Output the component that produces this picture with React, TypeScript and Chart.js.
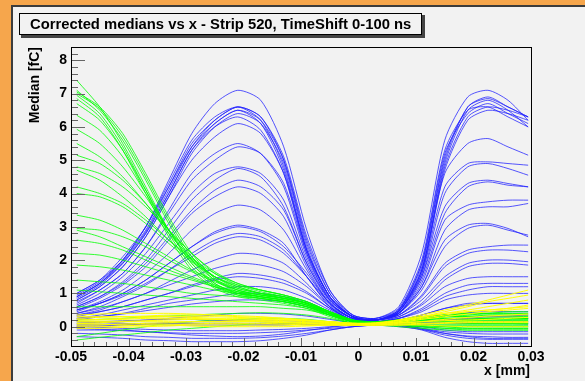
import React, { useEffect, useRef } from "react";
import { Chart, registerables } from "chart.js";
Chart.register(...registerables);

// x positions of the measured medians (mm)
const xs = [-0.049, -0.045, -0.041, -0.037, -0.033, -0.029, -0.025, -0.021, -0.017, -0.013, -0.009, -0.005, -0.001, 0.003, 0.007, 0.011, 0.015, 0.019, 0.0225, 0.026, 0.0295];

const xTickValues = [-0.05, -0.04, -0.03, -0.02, -0.01, 0, 0.01, 0.02, 0.03];
const xTickLabels = ["-0.05", "-0.04", "-0.03", "-0.02", "-0.01", "0", "0.01", "0.02", "0.03"];
const yTickValues = [0, 1, 2, 3, 4, 5, 6, 7, 8];
const yTickLabels = ["0", "1", "2", "3", "4", "5", "6", "7", "8"];

const titleText = "Corrected medians vs x - Strip 520, TimeShift 0-100 ns";
const xTitle = "x [mm]";
const yTitle = "Median [fC]";

// ---- blue series ----
const blue01 = [0.9, 1.3, 2.0, 3.0, 4.4, 5.8, 6.7, 7.1, 6.8, 5.4, 2.9, 1.1, 0.35, 0.25, 0.6, 2.2, 5.6, 6.9, 7.1, 6.8, 6.2];
const blue02 = [0.95, 1.35, 2.0, 2.9, 4.2, 5.5, 6.2, 6.6, 6.3, 5.0, 2.5, 1.0, 0.35, 0.25, 0.5, 1.8, 5.1, 6.6, 6.9, 6.6, 6.3];
const blue03 = [1.0, 1.4, 2.1, 3.0, 4.3, 5.6, 6.3, 6.6, 6.2, 4.8, 2.3, 0.9, 0.3, 0.2, 0.45, 1.7, 4.9, 6.5, 6.8, 6.5, 6.0];
const blue04 = [0.85, 1.25, 1.9, 2.8, 4.0, 5.3, 6.1, 6.5, 6.2, 5.0, 2.6, 1.0, 0.3, 0.2, 0.5, 1.9, 5.2, 6.4, 6.7, 6.4, 6.1];
const blue05 = [0.9, 1.3, 1.95, 2.85, 4.1, 5.4, 6.2, 6.6, 6.3, 5.1, 2.7, 1.1, 0.35, 0.25, 0.55, 2.0, 5.3, 6.5, 6.6, 6.3, 6.0];
const blue06 = [0.8, 1.2, 1.8, 2.7, 3.9, 5.2, 6.0, 6.4, 6.1, 4.9, 2.4, 0.9, 0.3, 0.2, 0.45, 1.6, 4.7, 6.2, 6.5, 6.4, 6.2];
const blue07 = [0.9, 1.3, 1.9, 2.8, 4.0, 5.3, 6.0, 6.3, 5.9, 4.6, 2.2, 0.8, 0.3, 0.2, 0.5, 1.7, 4.8, 6.3, 6.6, 6.5, 6.3];
const blue08 = [1.0, 1.4, 2.0, 3.0, 4.2, 5.4, 6.1, 6.5, 6.1, 4.7, 2.3, 0.9, 0.3, 0.2, 0.5, 1.9, 5.0, 6.6, 6.85, 6.6, 6.3];
const blue09 = [0.8, 1.2, 1.8, 2.7, 3.9, 5.0, 5.7, 6.1, 5.8, 4.6, 2.3, 0.9, 0.3, 0.2, 0.45, 1.7, 4.6, 5.5, 5.65, 5.4, 5.15];
const blue10 = [0.7, 1.1, 1.6, 2.4, 3.5, 4.6, 5.2, 5.5, 5.2, 4.2, 2.1, 0.85, 0.3, 0.2, 0.45, 1.6, 4.2, 4.9, 4.95, 4.9, 4.85];
const blue11 = [0.75, 1.1, 1.6, 2.4, 3.4, 4.4, 5.0, 5.4, 5.2, 4.3, 2.2, 0.9, 0.3, 0.2, 0.4, 1.5, 4.0, 4.8, 4.9, 4.75, 4.55];
const blue12 = [0.65, 1.0, 1.5, 2.2, 3.1, 4.0, 4.6, 4.8, 4.6, 3.8, 2.0, 0.8, 0.3, 0.2, 0.45, 1.5, 3.6, 4.3, 4.4, 4.3, 4.2];
const blue13 = [0.6, 0.9, 1.35, 2.0, 2.9, 3.8, 4.4, 4.75, 4.5, 3.6, 1.9, 0.75, 0.25, 0.2, 0.4, 1.4, 3.4, 4.2, 4.35, 4.25, 4.2];
const blue14 = [0.6, 0.9, 1.3, 1.9, 2.7, 3.5, 4.1, 4.4, 4.2, 3.5, 1.9, 0.8, 0.3, 0.2, 0.4, 1.3, 3.2, 3.65, 3.75, 3.8, 3.8];
const blue15 = [0.55, 0.85, 1.25, 1.8, 2.6, 3.4, 3.9, 4.2, 4.0, 3.3, 1.8, 0.7, 0.25, 0.2, 0.4, 1.2, 2.9, 3.5, 3.6, 3.6, 3.7];
const blue16 = [0.5, 0.75, 1.1, 1.6, 2.2, 2.9, 3.4, 3.65, 3.5, 2.9, 1.7, 0.7, 0.25, 0.2, 0.4, 1.2, 2.6, 3.05, 3.1, 2.95, 2.7];
const blue17 = [0.45, 0.7, 1.0, 1.4, 1.9, 2.4, 2.85, 3.05, 2.9, 2.5, 1.5, 0.65, 0.25, 0.2, 0.4, 1.1, 2.4, 2.95, 3.05, 2.9, 2.75];
const blue18 = [0.5, 0.7, 1.0, 1.4, 1.9, 2.4, 2.8, 3.0, 2.85, 2.4, 1.6, 0.7, 0.25, 0.2, 0.35, 0.95, 1.9, 2.3, 2.4, 2.45, 2.45];
const blue19 = [0.4, 0.6, 0.9, 1.25, 1.7, 2.2, 2.6, 2.8, 2.7, 2.3, 1.5, 0.6, 0.2, 0.2, 0.35, 0.9, 1.8, 2.2, 2.3, 2.3, 2.25];
const blue20 = [0.5, 0.7, 0.95, 1.3, 1.7, 2.1, 2.5, 2.7, 2.6, 2.2, 1.5, 0.7, 0.25, 0.2, 0.35, 0.8, 1.5, 1.9, 2.0, 2.0, 1.95];
const blue21 = [0.35, 0.5, 0.75, 1.0, 1.35, 1.7, 2.0, 2.2, 2.15, 1.9, 1.3, 0.6, 0.2, 0.2, 0.3, 0.7, 1.4, 1.8, 1.9, 1.9, 1.85];
const blue22 = [0.4, 0.55, 0.75, 1.0, 1.25, 1.5, 1.75, 1.9, 1.85, 1.65, 1.2, 0.6, 0.25, 0.15, 0.3, 0.65, 1.2, 1.45, 1.5, 1.5, 1.5];
const blue23 = [0.3, 0.45, 0.6, 0.8, 1.0, 1.25, 1.45, 1.6, 1.55, 1.4, 1.05, 0.55, 0.2, 0.15, 0.25, 0.55, 1.0, 1.25, 1.3, 1.3, 1.3];
const blue24 = [0.35, 0.45, 0.6, 0.8, 1.0, 1.2, 1.4, 1.5, 1.45, 1.3, 1.0, 0.55, 0.2, 0.15, 0.25, 0.5, 0.9, 1.1, 1.2, 1.2, 1.2];
const blue25 = [0.25, 0.35, 0.5, 0.65, 0.8, 0.95, 1.1, 1.2, 1.2, 1.1, 0.85, 0.5, 0.2, 0.15, 0.25, 0.45, 0.8, 0.95, 1.0, 1.0, 1.0];
const blue26 = [0.2, 0.3, 0.4, 0.55, 0.7, 0.8, 0.9, 1.0, 1.0, 0.9, 0.75, 0.45, 0.2, 0.15, 0.2, 0.35, 0.55, 0.7, 0.7, 0.7, 0.7];
const blue27 = [0.25, 0.3, 0.38, 0.48, 0.58, 0.68, 0.75, 0.8, 0.8, 0.75, 0.6, 0.4, 0.2, 0.15, 0.2, 0.35, 0.55, 0.65, 0.7, 0.7, 0.7];
const blue28 = [0.1, 0.12, 0.15, 0.2, 0.25, 0.3, 0.35, 0.4, 0.4, 0.38, 0.32, 0.22, 0.12, 0.1, 0.15, 0.25, 0.35, 0.42, 0.45, 0.45, 0.45];
const blue29 = [0.0, 0.02, 0.05, 0.08, 0.12, 0.15, 0.18, 0.2, 0.2, 0.18, 0.15, 0.12, 0.1, 0.1, 0.1, 0.15, 0.2, 0.22, 0.25, 0.25, 0.25];
const blue30 = [0.05, 0.05, 0.06, 0.08, 0.1, 0.1, 0.1, 0.1, 0.08, 0.08, 0.08, 0.08, 0.08, 0.08, 0.1, 0.12, 0.12, 0.1, 0.1, 0.1, 0.08];
const blue31 = [-0.1, -0.1, -0.12, -0.15, -0.18, -0.2, -0.2, -0.2, -0.18, -0.15, -0.1, -0.05, 0.0, 0.05, 0.05, -0.05, -0.15, -0.2, -0.22, -0.22, -0.22];
const blue32 = [-0.2, -0.22, -0.25, -0.3, -0.32, -0.35, -0.35, -0.35, -0.33, -0.28, -0.2, -0.1, 0.0, 0.05, 0.05, -0.08, -0.25, -0.35, -0.38, -0.38, -0.38];
const blue33 = [-0.3, -0.32, -0.35, -0.4, -0.42, -0.45, -0.45, -0.45, -0.42, -0.35, -0.25, -0.1, 0.0, 0.05, 0.02, -0.1, -0.32, -0.45, -0.5, -0.5, -0.5];
const blue34 = [0.0, -0.02, -0.05, -0.08, -0.1, -0.12, -0.12, -0.12, -0.1, -0.08, -0.05, 0.0, 0.05, 0.05, 0.05, 0.0, -0.1, -0.15, -0.15, -0.15, -0.15];
const blue35 = [-0.05, -0.08, -0.1, -0.15, -0.2, -0.25, -0.28, -0.3, -0.28, -0.22, -0.12, -0.02, 0.05, 0.05, 0.0, -0.08, -0.2, -0.28, -0.3, -0.32, -0.32];
const blue36 = [0.15, 0.12, 0.1, 0.08, 0.05, 0.05, 0.05, 0.05, 0.05, 0.05, 0.08, 0.1, 0.1, 0.08, 0.05, -0.05, -0.2, -0.3, -0.35, -0.35, -0.35];

// ---- green series ----
const green01 = [7.4, 6.6, 5.5, 4.2, 2.9, 1.9, 1.25, 0.95, 0.85, 0.75, 0.6, 0.35, 0.15, 0.15, 0.2, 0.25, 0.3, 0.3, 0.3, 0.3, 0.3];
const green02 = [7.1, 6.5, 5.6, 4.4, 3.1, 2.0, 1.3, 1.0, 0.9, 0.8, 0.65, 0.4, 0.15, 0.1, 0.15, 0.2, 0.25, 0.25, 0.25, 0.25, 0.25];
const green03 = [7.05, 6.6, 5.8, 4.6, 3.3, 2.2, 1.45, 1.1, 0.95, 0.85, 0.7, 0.4, 0.15, 0.1, 0.1, 0.15, 0.2, 0.2, 0.2, 0.2, 0.2];
const green04 = [7.0, 6.55, 5.7, 4.5, 3.2, 2.1, 1.4, 1.05, 0.9, 0.8, 0.65, 0.35, 0.1, 0.1, 0.2, 0.3, 0.35, 0.4, 0.4, 0.4, 0.4];
const green05 = [6.95, 6.4, 5.4, 4.1, 2.8, 1.8, 1.2, 0.95, 0.85, 0.75, 0.6, 0.35, 0.15, 0.1, 0.15, 0.2, 0.15, 0.1, 0.1, 0.1, 0.1];
const green06 = [6.85, 6.3, 5.3, 4.0, 2.7, 1.7, 1.15, 0.9, 0.8, 0.7, 0.55, 0.3, 0.1, 0.05, 0.05, 0.05, 0.0, 0.0, 0.0, 0.0, 0.0];
const green07 = [6.7, 6.2, 5.3, 4.1, 2.9, 1.9, 1.3, 1.0, 0.85, 0.75, 0.6, 0.35, 0.15, 0.1, 0.1, 0.1, 0.1, 0.15, 0.15, 0.15, 0.15];
const green08 = [6.35, 5.9, 5.1, 4.0, 2.9, 2.0, 1.4, 1.1, 0.95, 0.85, 0.7, 0.4, 0.15, 0.1, 0.15, 0.25, 0.3, 0.35, 0.35, 0.35, 0.35];
const green09 = [5.93, 5.5, 4.8, 3.9, 2.9, 2.1, 1.5, 1.15, 1.0, 0.9, 0.7, 0.4, 0.15, 0.1, 0.1, 0.05, 0.0, -0.05, -0.05, -0.05, -0.05];
const green10 = [5.5, 5.1, 4.5, 3.7, 2.8, 2.05, 1.5, 1.2, 1.0, 0.85, 0.7, 0.4, 0.15, 0.1, 0.2, 0.3, 0.35, 0.35, 0.4, 0.4, 0.4];
const green11 = [5.15, 4.9, 4.4, 3.7, 2.9, 2.2, 1.6, 1.25, 1.05, 0.9, 0.7, 0.4, 0.15, 0.1, 0.1, 0.15, 0.2, 0.2, 0.25, 0.25, 0.25];
const green12 = [4.8, 4.6, 4.2, 3.6, 2.9, 2.2, 1.65, 1.3, 1.1, 0.95, 0.75, 0.45, 0.15, 0.1, 0.15, 0.1, 0.1, 0.1, 0.1, 0.1, 0.1];
const green13 = [4.7, 4.4, 3.9, 3.3, 2.6, 2.0, 1.5, 1.2, 1.0, 0.85, 0.7, 0.4, 0.15, 0.1, 0.05, 0.0, -0.05, -0.1, -0.1, -0.1, -0.1];
const green14 = [4.2, 4.0, 3.7, 3.2, 2.6, 2.05, 1.6, 1.3, 1.1, 0.95, 0.75, 0.45, 0.2, 0.15, 0.2, 0.25, 0.3, 0.3, 0.3, 0.3, 0.3];
const green15 = [4.0, 3.9, 3.6, 3.1, 2.5, 1.95, 1.5, 1.25, 1.1, 0.95, 0.75, 0.45, 0.2, 0.1, 0.1, 0.15, 0.2, 0.2, 0.2, 0.2, 0.2];
const green16 = [3.35, 3.2, 2.9, 2.5, 2.1, 1.7, 1.4, 1.15, 1.0, 0.9, 0.7, 0.45, 0.2, 0.1, 0.05, 0.0, 0.0, 0.0, 0.0, 0.0, 0.0];
const green17 = [2.95, 2.9, 2.7, 2.4, 2.0, 1.65, 1.35, 1.1, 0.95, 0.85, 0.7, 0.45, 0.2, 0.15, 0.2, 0.3, 0.35, 0.4, 0.4, 0.45, 0.45];
const green18 = [2.9, 2.7, 2.4, 2.1, 1.8, 1.5, 1.25, 1.05, 0.9, 0.8, 0.65, 0.4, 0.15, 0.1, 0.1, 0.1, 0.1, 0.1, 0.1, 0.1, 0.1];
const green19 = [2.6, 2.5, 2.3, 2.0, 1.7, 1.45, 1.2, 1.0, 0.9, 0.8, 0.65, 0.4, 0.15, 0.1, 0.15, 0.2, 0.25, 0.25, 0.25, 0.25, 0.25];
const green20 = [2.2, 2.15, 2.0, 1.8, 1.6, 1.4, 1.2, 1.05, 0.95, 0.85, 0.7, 0.45, 0.2, 0.1, 0.05, 0.05, 0.05, 0.05, 0.05, 0.05, 0.05];
const green21 = [1.85, 1.8, 1.7, 1.55, 1.4, 1.25, 1.1, 1.0, 0.9, 0.8, 0.65, 0.4, 0.15, 0.1, 0.15, 0.2, 0.2, 0.25, 0.25, 0.25, 0.25];
const green22 = [1.4, 1.35, 1.3, 1.2, 1.1, 1.0, 0.95, 0.9, 0.85, 0.75, 0.6, 0.4, 0.15, 0.1, 0.1, 0.15, 0.15, 0.15, 0.15, 0.15, 0.15];
const green23 = [1.1, 1.05, 1.0, 0.95, 0.9, 0.85, 0.8, 0.75, 0.7, 0.65, 0.55, 0.35, 0.15, 0.1, 0.05, 0.0, -0.05, -0.05, -0.05, -0.05, -0.05];
const green24 = [0.6, 0.6, 0.6, 0.6, 0.6, 0.6, 0.6, 0.6, 0.6, 0.55, 0.5, 0.35, 0.15, 0.1, 0.15, 0.2, 0.3, 0.3, 0.35, 0.35, 0.35];
const green25 = [0.2, 0.22, 0.25, 0.3, 0.32, 0.35, 0.38, 0.4, 0.42, 0.4, 0.35, 0.25, 0.1, 0.05, 0.05, 0.05, 0.05, 0.05, 0.05, 0.05, 0.05];
const green26 = [-0.3, -0.2, -0.1, 0.0, 0.1, 0.15, 0.2, 0.22, 0.25, 0.25, 0.22, 0.15, 0.1, 0.05, 0.0, -0.05, -0.1, -0.1, -0.1, -0.1, -0.1];
const green27 = [-0.4, -0.32, -0.25, -0.18, -0.1, -0.05, 0.0, 0.05, 0.1, 0.1, 0.1, 0.1, 0.05, 0.05, 0.1, 0.15, 0.2, 0.2, 0.2, 0.2, 0.2];

// ---- yellow series ----
const yellow01 = [0.3, 0.3, 0.3, 0.3, 0.3, 0.28, 0.25, 0.25, 0.22, 0.2, 0.18, 0.15, 0.1, 0.1, 0.2, 0.35, 0.5, 0.65, 0.8, 0.95, 1.1];
const yellow02 = [0.2, 0.2, 0.22, 0.25, 0.25, 0.25, 0.22, 0.2, 0.2, 0.18, 0.15, 0.12, 0.1, 0.1, 0.18, 0.3, 0.45, 0.6, 0.75, 0.85, 0.95];
const yellow03 = [0.1, 0.12, 0.15, 0.18, 0.2, 0.22, 0.22, 0.2, 0.18, 0.15, 0.12, 0.1, 0.08, 0.08, 0.15, 0.28, 0.4, 0.5, 0.6, 0.7, 0.8];
const yellow04 = [0.05, 0.05, 0.08, 0.1, 0.12, 0.15, 0.15, 0.15, 0.15, 0.12, 0.1, 0.08, 0.05, 0.08, 0.12, 0.22, 0.3, 0.38, 0.45, 0.5, 0.55];
const yellow05 = [0.0, 0.0, 0.02, 0.05, 0.05, 0.08, 0.1, 0.1, 0.1, 0.08, 0.05, 0.05, 0.05, 0.05, 0.1, 0.15, 0.22, 0.28, 0.32, 0.35, 0.38];
const yellow06 = [0.25, 0.28, 0.3, 0.32, 0.35, 0.35, 0.35, 0.33, 0.3, 0.25, 0.2, 0.15, 0.1, 0.1, 0.12, 0.15, 0.18, 0.2, 0.22, 0.25, 0.28];
const yellow07 = [0.15, 0.15, 0.15, 0.15, 0.15, 0.15, 0.15, 0.15, 0.15, 0.12, 0.1, 0.08, 0.05, 0.05, 0.08, 0.1, 0.12, 0.15, 0.15, 0.15, 0.15];
const yellow08 = [-0.05, -0.05, -0.02, 0.0, 0.02, 0.05, 0.05, 0.05, 0.05, 0.05, 0.05, 0.05, 0.05, 0.05, 0.05, 0.08, 0.1, 0.12, 0.12, 0.12, 0.12];
const yellow09 = [0.35, 0.38, 0.4, 0.4, 0.4, 0.38, 0.35, 0.3, 0.28, 0.25, 0.2, 0.15, 0.1, 0.1, 0.15, 0.25, 0.35, 0.45, 0.5, 0.55, 0.6];
const yellow10 = [0.1, 0.08, 0.05, 0.05, 0.05, 0.02, 0.0, 0.0, 0.0, 0.0, 0.02, 0.05, 0.05, 0.05, 0.05, 0.05, 0.02, 0.0, 0.0, 0.0, 0.0];
const yellow11 = [0.2, 0.22, 0.25, 0.28, 0.3, 0.3, 0.3, 0.28, 0.25, 0.22, 0.18, 0.12, 0.1, 0.12, 0.2, 0.3, 0.4, 0.45, 0.5, 0.55, 0.65];

// ---- grey series ----
const grey01 = [0.15, 0.15, 0.18, 0.2, 0.22, 0.22, 0.2, 0.18, 0.15, 0.12, 0.1, 0.08, 0.06, 0.06, 0.1, 0.15, 0.2, 0.25, 0.3, 0.32, 0.35];
const grey02 = [0.05, 0.06, 0.08, 0.1, 0.1, 0.1, 0.1, 0.1, 0.1, 0.08, 0.06, 0.05, 0.05, 0.05, 0.06, 0.08, 0.1, 0.12, 0.15, 0.15, 0.15];

const blueSeries = [blue01, blue02, blue03, blue04, blue05, blue06, blue07, blue08, blue09, blue10, blue11, blue12, blue13, blue14, blue15, blue16, blue17, blue18, blue19, blue20, blue21, blue22, blue23, blue24, blue25, blue26, blue27, blue28, blue29, blue30, blue31, blue32, blue33, blue34, blue35, blue36];
const greenSeries = [green01, green02, green03, green04, green05, green06, green07, green08, green09, green10, green11, green12, green13, green14, green15, green16, green17, green18, green19, green20, green21, green22, green23, green24, green25, green26, green27];
const yellowSeries = [yellow01, yellow02, yellow03, yellow04, yellow05, yellow06, yellow07, yellow08, yellow09, yellow10, yellow11];
const greySeries = [grey01, grey02];

const FONT = "'Liberation Sans', Arial, Helvetica, sans-serif";

function mk(arr: number[], color: string, name: string, width: number) {
  return {
    label: name,
    data: xs.map((x, i) => ({ x, y: arr[i] })),
    borderColor: color,
    backgroundColor: color,
    borderWidth: width,
    pointRadius: 0,
    fill: false,
    tension: 0.25,
  };
}

const decor = {
  id: "rootDecor",
  beforeDraw(chart: any) {
    const ctx = chart.ctx;
    const W = chart.width, H = chart.height;
    ctx.save();
    ctx.fillStyle = "#f6a64c";
    ctx.fillRect(0, 0, W, H);
    ctx.fillStyle = "#3c3c3c";
    ctx.fillRect(11, 5, W - 11, H - 5);
    ctx.fillStyle = "#f2f2f2";
    ctx.fillRect(13, 7, W - 13, H - 7);
    ctx.restore();
  },
  afterDatasetsDraw(chart: any) {
    const ctx = chart.ctx;
    const a = chart.chartArea;
    const xs_ = chart.scales.x, ys_ = chart.scales.y;
    ctx.save();
    ctx.strokeStyle = "#666";
    ctx.lineWidth = 1;
    ctx.beginPath();
    for (let k = 0; k <= 40; k++) {
      const v = -0.05 + k * 0.002;
      const px = Math.round(xs_.getPixelForValue(v)) + 0.5;
      const len = k % 5 === 0 ? 8 : 4;
      ctx.moveTo(px, a.bottom);
      ctx.lineTo(px, a.bottom - len);
    }
    for (let k = -2; k <= 42; k++) {
      const v = k * 0.2;
      const py = Math.round(ys_.getPixelForValue(v)) + 0.5;
      if (py < a.top || py > a.bottom) continue;
      const len = k % 5 === 0 ? 14 : 7;
      ctx.moveTo(a.left, py);
      ctx.lineTo(a.left + len, py);
    }
    ctx.stroke();
    ctx.strokeStyle = "#000";
    ctx.strokeRect(Math.round(a.left) + 0.5, Math.round(a.top) + 0.5, Math.round(a.right - a.left), Math.round(a.bottom - a.top));
    ctx.restore();
  },
  afterDraw(chart: any) {
    const ctx = chart.ctx;
    const a = chart.chartArea;
    ctx.save();
    ctx.fillStyle = "#444";
    ctx.fillRect(21, 15, 404, 23);
    ctx.fillStyle = "#f2f2f2";
    ctx.fillRect(19, 13, 403, 22);
    ctx.strokeStyle = "#000";
    ctx.lineWidth = 1;
    ctx.strokeRect(19.5, 13.5, 402, 21);
    ctx.fillStyle = "#000";
    ctx.font = "bold 14.8px " + FONT;
    ctx.textBaseline = "middle";
    ctx.textAlign = "left";
    ctx.fillText(titleText, 30, 24.5);
    ctx.font = "bold 14px " + FONT;
    ctx.textAlign = "right";
    ctx.fillText(xTitle, a.right - 1, 371);
    ctx.translate(35.5, a.top);
    ctx.rotate(-Math.PI / 2);
    ctx.textAlign = "right";
    ctx.fillText(yTitle, 0, 0);
    ctx.restore();
  },
};

export default function App() {
  const ref = useRef<HTMLCanvasElement | null>(null);
  useEffect(() => {
    document.body.style.margin = "0";
    const canvas = ref.current!;
    const datasets = [
      ...yellowSeries.map((s, i) => mk(s, "#ffff00", "yellow" + i, 1)),
      ...greySeries.map((s, i) => mk(s, "#8f8f8f", "grey" + i, 1)),
      ...greenSeries.map((s, i) => mk(s, "#00ff00", "green" + i, 0.8)),
      ...blueSeries.map((s, i) => mk(s, "#1f1fff", "blue" + i, 0.75)),
    ];
    const chart = new Chart(canvas, {
      type: "line",
      data: { datasets },
      options: {
        animation: false,
        responsive: false,
        devicePixelRatio: 1,
        layout: { padding: { top: 47, right: 54, left: 0, bottom: 0 } },
        plugins: { legend: { display: false }, tooltip: { enabled: false }, title: { display: false } },
        scales: {
          x: {
            type: "linear",
            min: -0.05,
            max: 0.03,
            afterBuildTicks: (s: any) => { s.ticks = xTickValues.map((v) => ({ value: v })); },
            afterFit: (s: any) => { s.height = 35; },
            grid: { display: false, drawTicks: false },
            border: { display: false },
            ticks: {
              autoSkip: false,
              maxRotation: 0,
              padding: 3,
              color: "#000",
              font: { family: FONT, size: 14, weight: "bold" },
              callback: (_v: any, i: number) => xTickLabels[i],
            },
          },
          y: {
            type: "linear",
            min: -0.58,
            max: 8.4,
            afterBuildTicks: (s: any) => { s.ticks = yTickValues.map((v) => ({ value: v })); },
            afterFit: (s: any) => { s.width = 71; },
            grid: { display: false, drawTicks: false },
            border: { display: false },
            ticks: {
              autoSkip: false,
              padding: 4,
              color: "#000",
              font: { family: FONT, size: 14, weight: "bold" },
              callback: (_v: any, i: number) => yTickLabels[i],
            },
          },
        },
      },
      plugins: [decor],
    } as any);
    return () => chart.destroy();
  }, []);
  return <canvas ref={ref} width={585} height={381} style={{ display: "block", width: 585, height: 381 }} />;
}
